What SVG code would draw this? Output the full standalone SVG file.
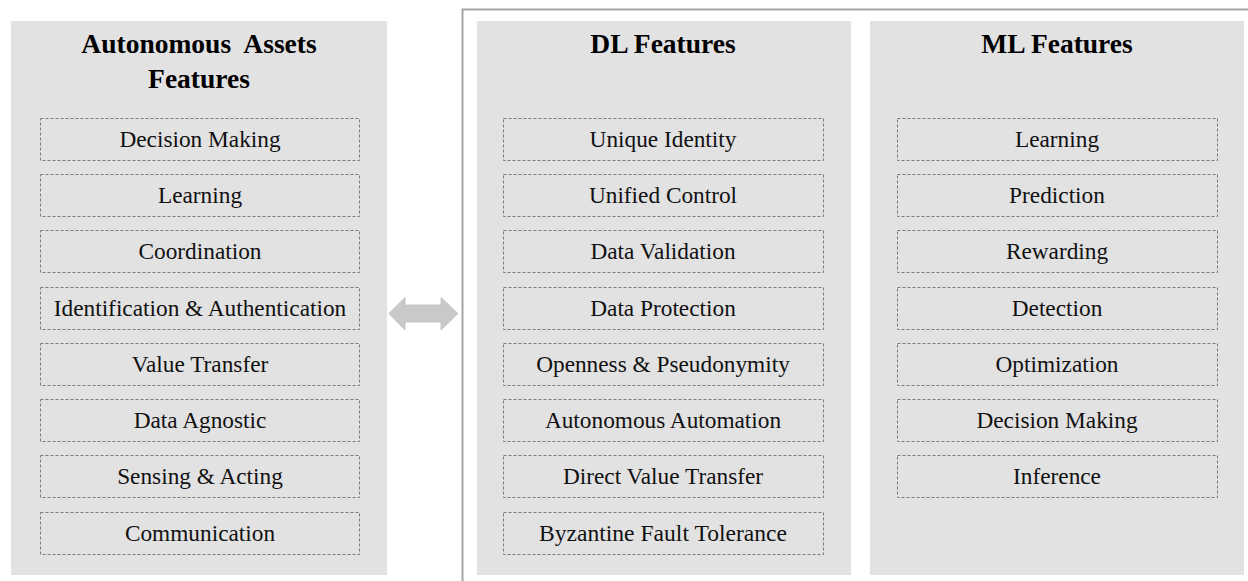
<svg xmlns="http://www.w3.org/2000/svg" width="1248" height="581" viewBox="0 0 1248 581">
<style>
.panel{fill:#e3e2e3;}
.box{fill:none;stroke:#7a7a7a;stroke-width:1;stroke-dasharray:3 2;}
.title{font-family:"Liberation Serif",serif;font-weight:bold;font-size:27.5px;fill:#000;text-anchor:middle;}
.item{font-family:"Liberation Serif",serif;font-size:23.3px;fill:#111;text-anchor:middle;}
</style>
<rect width="1248" height="581" fill="#fff"/>
<path d="M462.5,581 V9.5 H1248" fill="none" stroke="#a6a6a6" stroke-width="2"/>

<g id="assets">
<rect class="panel" x="11" y="21" width="376" height="554"/>
<text class="title" x="199" y="53" xml:space="preserve">Autonomous  Assets</text>
<text class="title" x="199" y="88">Features</text>
<rect class="box" x="40.5" y="118.5" width="319" height="42"/><text class="item" x="200" y="147">Decision Making</text>
<rect class="box" x="40.5" y="174.5" width="319" height="42"/><text class="item" x="200" y="203">Learning</text>
<rect class="box" x="40.5" y="230.5" width="319" height="42"/><text class="item" x="200" y="259">Coordination</text>
<rect class="box" x="40.5" y="287.5" width="319" height="42"/><text class="item" x="200" y="316">Identification &amp; Authentication</text>
<rect class="box" x="40.5" y="343.5" width="319" height="42"/><text class="item" x="200" y="372">Value Transfer</text>
<rect class="box" x="40.5" y="399.5" width="319" height="42"/><text class="item" x="200" y="428">Data Agnostic</text>
<rect class="box" x="40.5" y="455.5" width="319" height="42"/><text class="item" x="200" y="484">Sensing &amp; Acting</text>
<rect class="box" x="40.5" y="512.5" width="319" height="42"/><text class="item" x="200" y="541">Communication</text>
</g>

<g id="dl">
<rect class="panel" x="477" y="21" width="374" height="554"/>
<text class="title" x="663" y="53">DL Features</text>
<rect class="box" x="503.5" y="118.5" width="320" height="42"/><text class="item" x="663" y="147">Unique Identity</text>
<rect class="box" x="503.5" y="174.5" width="320" height="42"/><text class="item" x="663" y="203">Unified Control</text>
<rect class="box" x="503.5" y="230.5" width="320" height="42"/><text class="item" x="663" y="259">Data Validation</text>
<rect class="box" x="503.5" y="287.5" width="320" height="42"/><text class="item" x="663" y="316">Data Protection</text>
<rect class="box" x="503.5" y="343.5" width="320" height="42"/><text class="item" x="663" y="372">Openness &amp; Pseudonymity</text>
<rect class="box" x="503.5" y="399.5" width="320" height="42"/><text class="item" x="663" y="428">Autonomous Automation</text>
<rect class="box" x="503.5" y="455.5" width="320" height="42"/><text class="item" x="663" y="484">Direct Value Transfer</text>
<rect class="box" x="503.5" y="512.5" width="320" height="42"/><text class="item" x="663" y="541" textLength="248" lengthAdjust="spacingAndGlyphs">Byzantine Fault Tolerance</text>
</g>

<g id="ml">
<rect class="panel" x="870" y="21" width="374" height="554"/>
<text class="title" x="1057" y="53">ML Features</text>
<rect class="box" x="897.5" y="118.5" width="320" height="42"/><text class="item" x="1057" y="147">Learning</text>
<rect class="box" x="897.5" y="174.5" width="320" height="42"/><text class="item" x="1057" y="203">Prediction</text>
<rect class="box" x="897.5" y="230.5" width="320" height="42"/><text class="item" x="1057" y="259">Rewarding</text>
<rect class="box" x="897.5" y="287.5" width="320" height="42"/><text class="item" x="1057" y="316">Detection</text>
<rect class="box" x="897.5" y="343.5" width="320" height="42"/><text class="item" x="1057" y="372">Optimization</text>
<rect class="box" x="897.5" y="399.5" width="320" height="42"/><text class="item" x="1057" y="428">Decision Making</text>
<rect class="box" x="897.5" y="455.5" width="320" height="42"/><text class="item" x="1057" y="484">Inference</text>
</g>

<g id="connectors">
<path d="M389,313.5 L405,297.5 L405,305 L441,305 L441,297.5 L458,313.5 L441,330 L441,322 L405,322 L405,330 Z" fill="#c9c9c9" stroke="#bdbdbd" stroke-width="0.8"/>
</g>
</svg>
